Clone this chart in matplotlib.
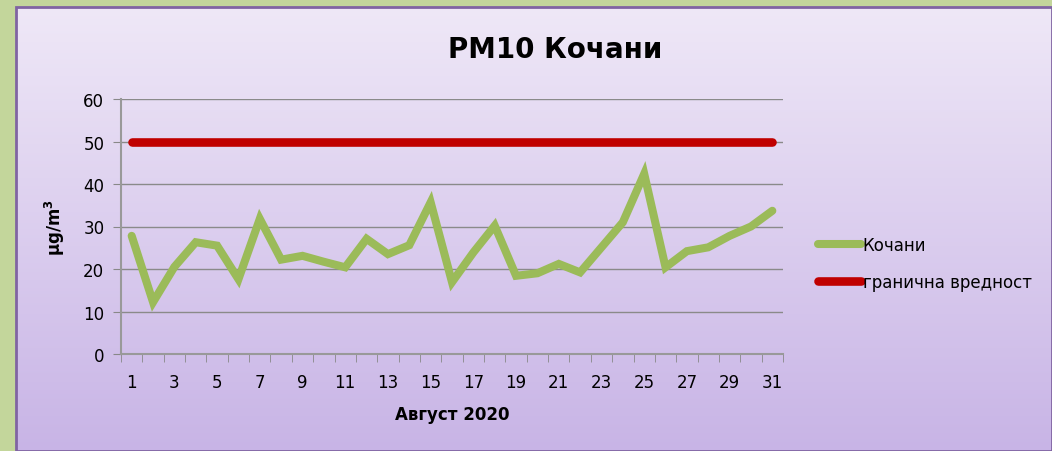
import numpy as np
import matplotlib.pyplot as plt
from matplotlib.patches import Rectangle

# PM10 daily averages, August 2020
days = np.arange(1, 32)
kochani = [27.8, 12.2, 20.5, 26.3, 25.5, 17.6, 31.8, 22.2, 23.1, 21.7,
           20.4, 27.1, 23.5, 25.6, 35.7, 16.9, 23.9, 30.2, 18.4, 19.0,
           21.2, 19.2, 25.1, 31.0, 42.4, 20.4, 24.2, 25.1, 27.8, 30.0, 33.7]
limit = [50] * 31
xticklabels = [str(d) if d % 2 == 1 else '' for d in days]

green = '#9bbb59'
red = '#c00000'

fig = plt.figure(figsize=(10.52, 4.52), dpi=100)
fig.patch.set_facecolor('#c3d69b')

# gradient panel behind the chart
bg = fig.add_axes([16/1052, 0, 1 - 16/1052, 1 - 8/452])
grad = np.linspace(0, 1, 256).reshape(-1, 1)
top = np.array([0xef, 0xe8, 0xf7]) / 255
bot = np.array([0xc8, 0xb4, 0xe6]) / 255
img = top + (bot - top) * grad[:, :, None]
bg.imshow(img, aspect='auto', extent=[0, 1, 0, 1], origin='upper')
bg.add_patch(Rectangle((0, 0), 1, 1, fill=False, edgecolor='#8064a2',
                       linewidth=2, transform=bg.transAxes, clip_on=False))
bg.set_axis_off()

ax = fig.add_axes([121/1052, 1 - 355/452, (783 - 121)/1052, (355 - 100)/452])
ax.set_facecolor('none')

ax.plot(days, kochani, color=green, linewidth=5.8, solid_capstyle='round',
        solid_joinstyle='miter', label='Кочани')
ax.plot(days, limit, color=red, linewidth=6.2, solid_capstyle='round',
        label='гранична вредност')

ax.set_xlim(0.5, 31.5)
ax.set_ylim(0, 60)
ax.set_yticks(range(0, 61, 10))
ax.set_xticks(days)
ax.set_xticklabels(xticklabels)
ax.set_xticks(np.arange(0.5, 32, 1), minor=True)
ax.tick_params(axis='x', which='major', length=0, pad=14, labelsize=12)
ax.tick_params(axis='x', which='minor', length=6, color='#888888')
ax.tick_params(axis='y', length=6, color='#888888', labelsize=12, pad=6)
ax.grid(axis='y', color='#8a8a8a', linewidth=1.0)
ax.set_axisbelow(True)
for s in ['top', 'right']:
    ax.spines[s].set_visible(False)
for s in ['left', 'bottom']:
    ax.spines[s].set_color('#999999')
    ax.spines[s].set_linewidth(1.5)

ax.set_xlabel('Август 2020', fontsize=12, fontweight='bold', labelpad=10)
ax.set_ylabel('μg/m$^\\mathbf{3}$', fontsize=12, fontweight='bold', labelpad=12)
fig.text(555/1052, 1 - 50/452, 'PM10 Кочани', fontsize=20, fontweight='bold',
         ha='center', va='center')

ax.legend(loc='center left', bbox_to_anchor=(1.03, 0.355), frameon=False,
          fontsize=12, handlelength=2.6, handletextpad=0.1, labelspacing=1.1)

fig.savefig('out.png', dpi=100)
